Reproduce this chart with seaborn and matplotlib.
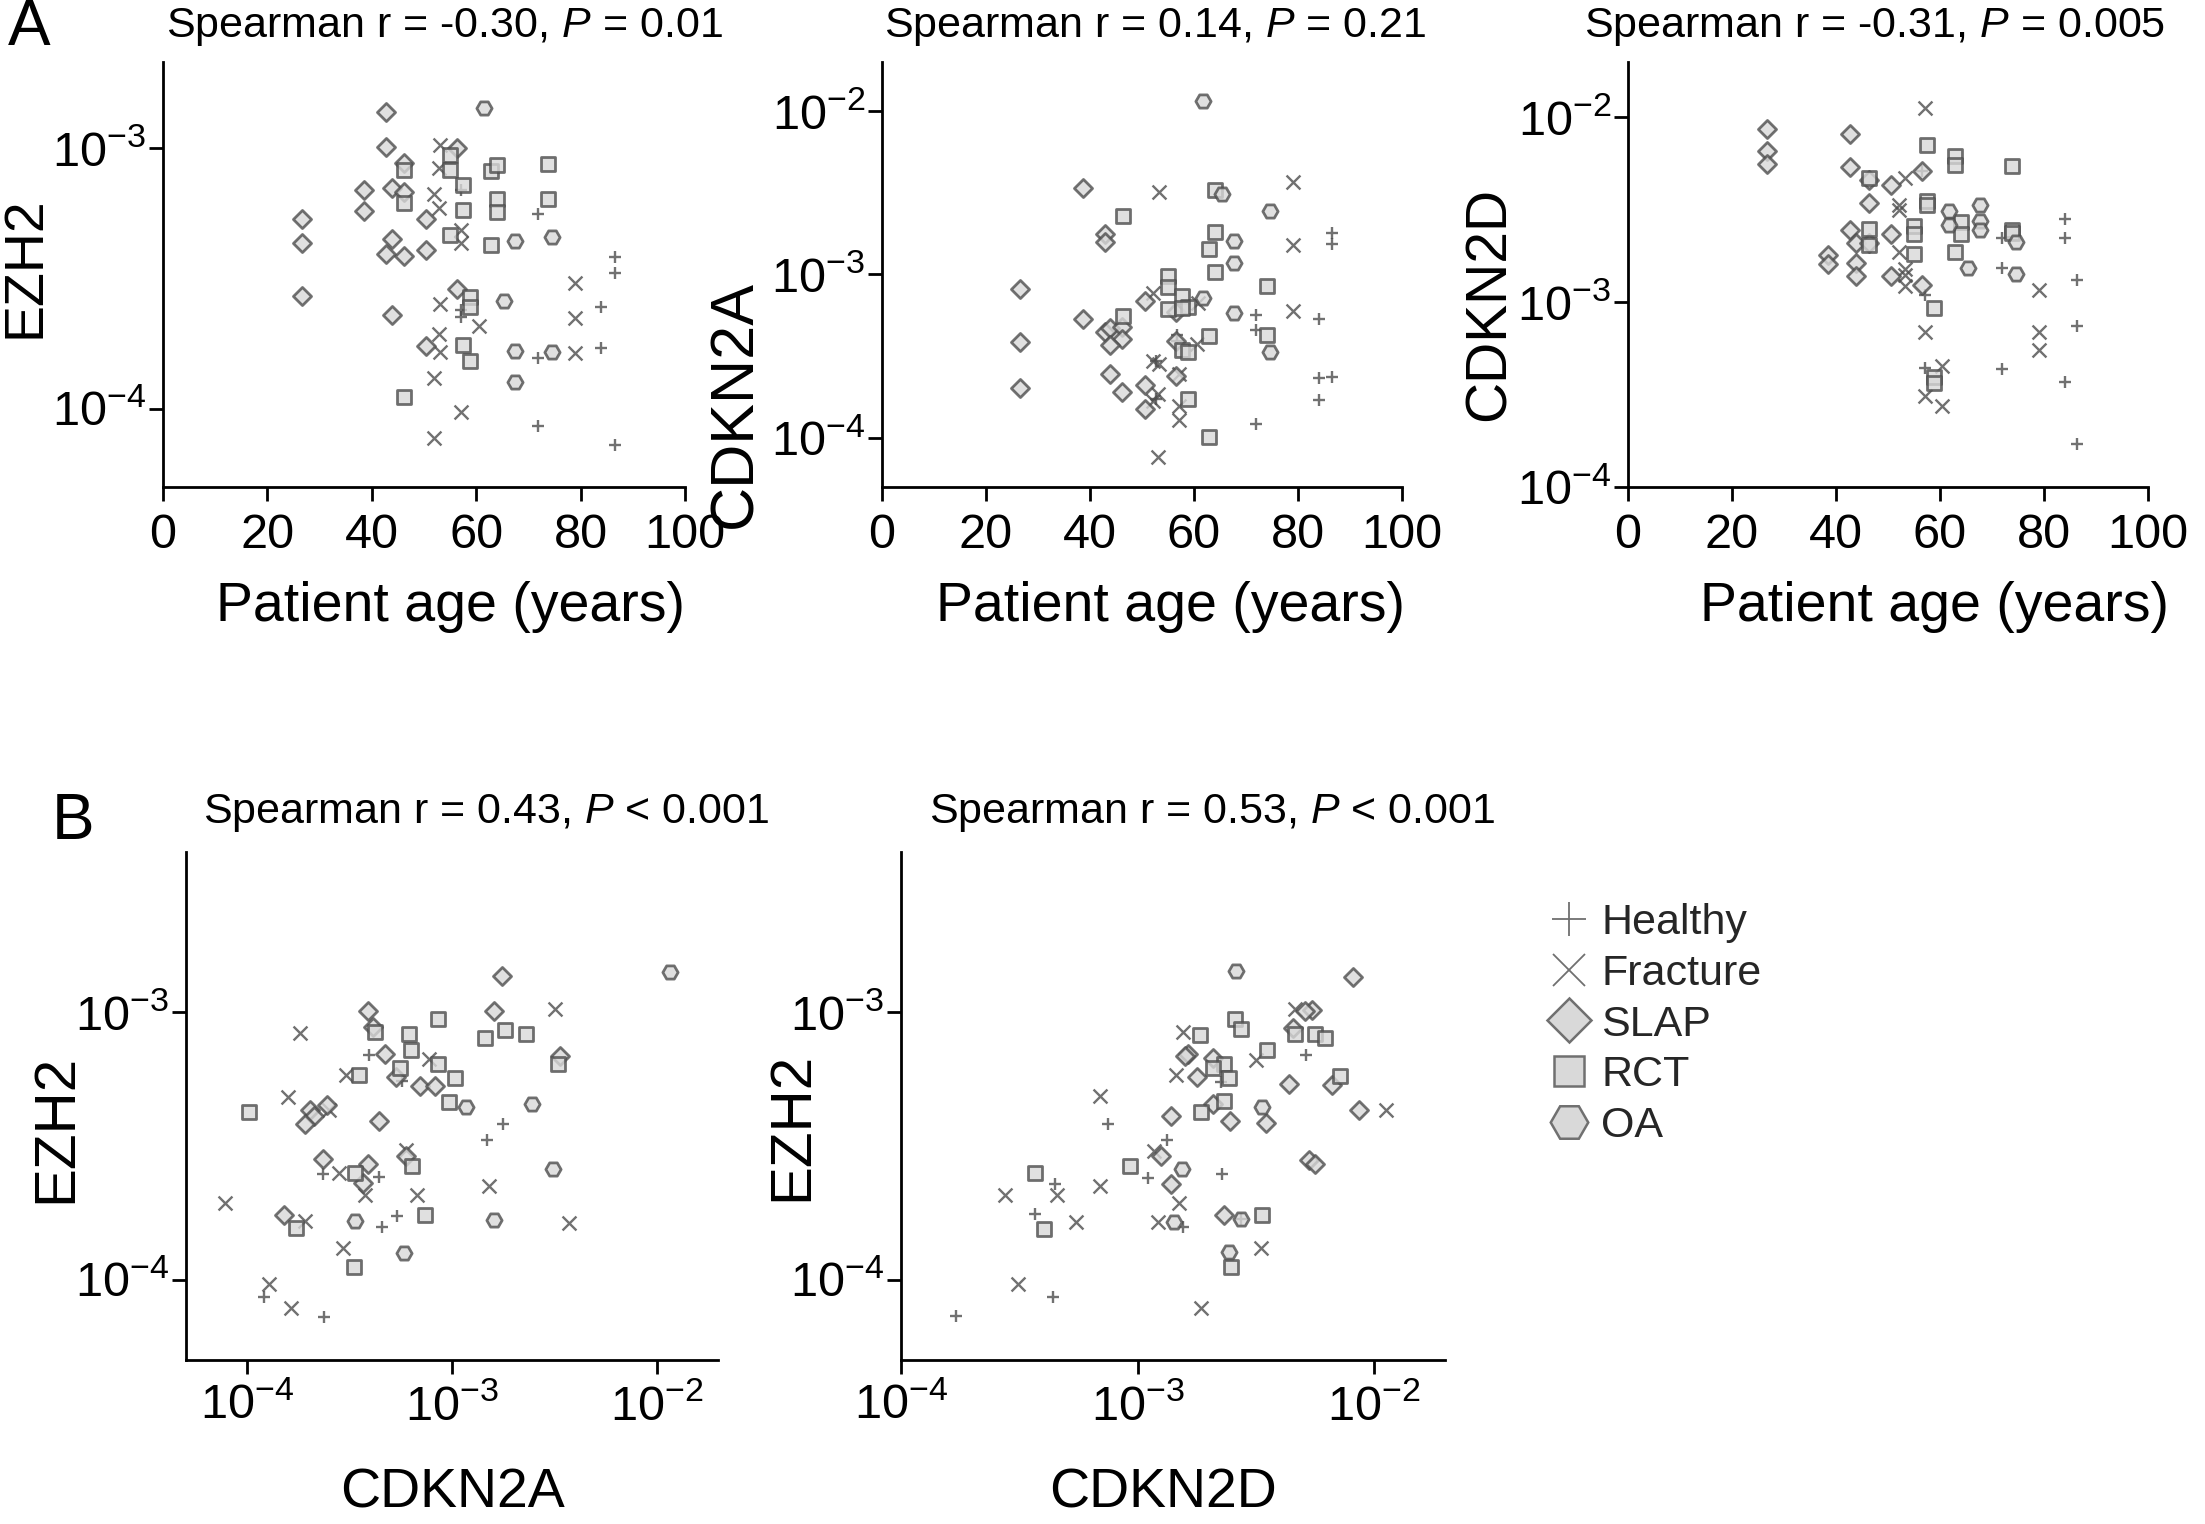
import numpy as np
import pandas as pd
import matplotlib
matplotlib.use("Agg")
import matplotlib.pyplot as plt
from matplotlib.lines import Line2D
from matplotlib.ticker import FixedLocator, NullLocator, FuncFormatter
import seaborn as sns

sns.set_theme(style="ticks")
plt.rcParams['font.family'] = ['Liberation Sans', 'DejaVu Sans']
plt.rcParams['mathtext.fontset'] = 'custom'
plt.rcParams['mathtext.rm'] = 'Liberation Sans'
plt.rcParams['mathtext.it'] = 'Liberation Sans:italic'
plt.rcParams['mathtext.default'] = 'regular'

GROUPS = ["Healthy", "Fracture", "SLAP", "RCT", "OA"]

# ---------------- Panel A1: age vs EZH2 ----------------
A1_HEALTHY_AGE = [57.0, 71.9, 86.5, 86.5, 84.0, 57.0, 57.0, 84.0, 71.9, 71.9, 86.5]
A1_HEALTHY_EZH2 = [6.89e-4, 5.58e-4, 3.82e-4, 3.33e-4, 2.46e-4, 2.39e-4, 2.25e-4, 1.71e-4, 1.56e-4, 8.57e-5, 7.27e-5]
A1_FRACTURE_AGE = [53.1, 52.8, 51.9, 52.8, 57.1, 57.1, 53.1, 60.5, 52.8, 53.1, 51.9, 57.1, 51.9, 78.9, 78.9, 78.9]
A1_FRACTURE_EZH2 = [1.03e-3, 8.40e-4, 6.67e-4, 5.88e-4, 4.86e-4, 4.32e-4, 2.52e-4, 2.07e-4, 1.93e-4, 1.65e-4, 1.31e-4, 9.68e-5, 7.71e-5, 3.03e-4, 2.22e-4, 1.63e-4]
A1_SLAP_AGE = [26.6, 26.6, 26.6, 42.8, 42.8, 46.1, 38.5, 43.8, 46.1, 38.5, 50.4, 43.8, 42.8, 46.1, 50.4, 43.8, 56.3, 56.4, 50.4]
A1_SLAP_EZH2 = [5.33e-4, 4.31e-4, 2.70e-4, 1.37e-3, 1.01e-3, 8.78e-4, 6.89e-4, 7.03e-4, 6.77e-4, 5.72e-4, 5.35e-4, 4.48e-4, 3.92e-4, 3.85e-4, 4.07e-4, 2.28e-4, 1.00e-3, 2.87e-4, 1.74e-4]
A1_RCT_AGE = [55.0, 55.0, 46.2, 46.2, 57.5, 57.5, 62.9, 64.0, 73.8, 73.8, 64.0, 64.0, 55.0, 62.9, 58.8, 58.8, 57.5, 58.8, 46.2]
A1_RCT_EZH2 = [9.37e-4, 8.27e-4, 8.22e-4, 6.16e-4, 7.21e-4, 5.80e-4, 8.15e-4, 8.60e-4, 8.70e-4, 6.37e-4, 6.40e-4, 5.69e-4, 4.62e-4, 4.23e-4, 2.68e-4, 2.46e-4, 1.75e-4, 1.53e-4, 1.11e-4]
A1_OA_AGE = [61.5, 67.5, 74.6, 65.3, 67.5, 74.6, 67.5]
A1_OA_EZH2 = [1.43e-3, 4.41e-4, 4.54e-4, 2.60e-4, 1.67e-4, 1.65e-4, 1.27e-4]

# ---------------- Panel A2: age vs CDKN2A ----------------
A2_HEALTHY_AGE = [86.6, 86.6, 71.9, 84.1, 71.9, 56.8, 56.8, 52.7, 52.7, 84.1, 86.6, 84.1, 71.9]
A2_HEALTHY_CDKN2A = [1.79e-3, 1.53e-3, 5.69e-4, 5.38e-4, 4.55e-4, 4.24e-4, 3.92e-4, 2.96e-4, 1.73e-4, 2.32e-4, 2.36e-4, 1.70e-4, 1.22e-4]
A2_FRACTURE_AGE = [53.2, 79.0, 79.0, 79.0, 52.2, 60.7, 60.6, 52.2, 53.2, 57.2, 53.0, 52.2, 57.2, 57.2, 53.0]
A2_FRACTURE_CDKN2A = [3.18e-3, 3.70e-3, 1.51e-3, 6.02e-4, 7.71e-4, 6.70e-4, 3.74e-4, 2.96e-4, 2.82e-4, 2.45e-4, 1.85e-4, 1.69e-4, 1.57e-4, 1.28e-4, 7.69e-5]
A2_SLAP_AGE = [38.6, 42.8, 42.8, 26.5, 38.6, 26.5, 26.5, 42.8, 43.8, 46.2, 46.2, 43.8, 50.5, 56.5, 56.5, 43.8, 46.2, 50.5, 50.5, 56.5]
A2_SLAP_CDKN2A = [3.36e-3, 1.77e-3, 1.59e-3, 8.20e-4, 5.36e-4, 3.86e-4, 2.02e-4, 4.45e-4, 4.72e-4, 4.79e-4, 4.05e-4, 3.68e-4, 6.93e-4, 5.91e-4, 3.92e-4, 2.45e-4, 1.90e-4, 2.11e-4, 1.50e-4, 2.40e-4]
A2_RCT_AGE = [46.3, 64.1, 64.1, 62.9, 64.1, 55.0, 55.0, 57.6, 58.9, 55.0, 57.6, 46.3, 62.9, 74.0, 74.0, 57.6, 58.9, 58.9, 62.9]
A2_RCT_CDKN2A = [2.28e-3, 3.29e-3, 1.81e-3, 1.44e-3, 1.03e-3, 9.75e-4, 8.39e-4, 7.36e-4, 6.34e-4, 6.11e-4, 6.25e-4, 5.56e-4, 4.20e-4, 8.47e-4, 4.26e-4, 3.44e-4, 3.37e-4, 1.73e-4, 1.02e-4]
A2_OA_AGE = [61.7, 65.4, 74.7, 67.7, 67.7, 61.7, 67.7, 74.7]
A2_OA_CDKN2A = [1.16e-2, 3.09e-3, 2.46e-3, 1.61e-3, 1.18e-3, 7.19e-4, 5.82e-4, 3.36e-4]

# ---------------- Panel A3: age vs CDKN2D ----------------
A3_HEALTHY_AGE = [56.6, 84.0, 84.0, 72.0, 72.0, 86.4, 57.1, 86.4, 57.1, 72.0, 84.0, 86.4]
A3_HEALTHY_CDKN2D = [5.16e-3, 2.81e-3, 2.23e-3, 2.23e-3, 1.54e-3, 1.32e-3, 1.09e-3, 7.41e-4, 4.43e-4, 4.33e-4, 3.72e-4, 1.71e-4]
A3_FRACTURE_AGE = [57.1, 53.2, 52.1, 52.1, 52.1, 53.2, 53.2, 53.2, 79.0, 57.1, 79.0, 79.0, 60.4, 57.1, 60.4]
A3_FRACTURE_CDKN2D = [1.12e-2, 4.70e-3, 3.35e-3, 3.15e-3, 1.86e-3, 1.51e-3, 1.41e-3, 1.22e-3, 1.17e-3, 6.91e-4, 6.91e-4, 5.51e-4, 4.52e-4, 3.11e-4, 2.75e-4]
A3_SLAP_AGE = [26.7, 26.7, 26.7, 42.7, 42.7, 46.3, 50.5, 46.3, 42.7, 43.9, 46.3, 50.5, 38.5, 38.5, 43.9, 43.9, 50.5, 56.6, 56.6]
A3_SLAP_CDKN2D = [8.65e-3, 6.62e-3, 5.61e-3, 8.13e-3, 5.39e-3, 4.61e-3, 4.33e-3, 3.45e-3, 2.46e-3, 2.08e-3, 2.08e-3, 2.33e-3, 1.79e-3, 1.60e-3, 1.64e-3, 1.38e-3, 1.39e-3, 5.16e-3, 1.24e-3]
A3_RCT_AGE = [57.5, 62.8, 62.8, 73.8, 46.3, 57.5, 57.5, 46.3, 46.3, 55.0, 55.0, 55.0, 64.1, 64.1, 62.8, 73.8, 73.8, 58.9, 58.9, 58.9]
A3_RCT_CDKN2D = [7.13e-3, 6.17e-3, 5.54e-3, 5.45e-3, 4.70e-3, 3.52e-3, 3.35e-3, 2.49e-3, 2.04e-3, 2.58e-3, 2.33e-3, 1.83e-3, 2.72e-3, 2.33e-3, 1.88e-3, 2.46e-3, 2.36e-3, 9.31e-4, 3.94e-4, 3.67e-4]
A3_OA_AGE = [67.6, 61.7, 61.7, 67.6, 67.6, 74.7, 65.4, 74.7]
A3_OA_CDKN2D = [3.35e-3, 3.11e-3, 2.61e-3, 2.75e-3, 2.46e-3, 2.11e-3, 1.54e-3, 1.42e-3]

# ---------------- Panel B1: CDKN2A vs EZH2 ----------------
B1_HEALTHY_CDKN2A = [3.95e-4, 5.70e-4, 1.78e-3, 1.48e-3, 2.35e-4, 4.38e-4, 5.41e-4, 4.55e-4, 1.21e-4, 2.37e-4]
B1_HEALTHY_EZH2 = [6.95e-4, 5.56e-4, 3.82e-4, 3.33e-4, 2.49e-4, 2.42e-4, 1.73e-4, 1.57e-4, 8.63e-5, 7.28e-5]
B1_FRACTURE_CDKN2A = [1.80e-4, 3.18e-3, 3.03e-4, 7.74e-4, 1.58e-4, 2.51e-4, 5.97e-4, 2.79e-4, 3.74e-4, 6.71e-4, 1.51e-3, 7.74e-5, 1.91e-4, 3.72e-3, 2.92e-4, 1.28e-4, 1.63e-4]
B1_FRACTURE_EZH2 = [8.38e-4, 1.03e-3, 5.84e-4, 6.71e-4, 4.84e-4, 4.32e-4, 3.07e-4, 2.51e-4, 2.08e-4, 2.08e-4, 2.24e-4, 1.93e-4, 1.66e-4, 1.63e-4, 1.32e-4, 9.66e-5, 7.83e-5]
B1_SLAP_CDKN2A = [1.75e-3, 1.60e-3, 3.87e-4, 4.11e-4, 4.72e-4, 5.34e-4, 6.94e-4, 8.22e-4, 3.39e-3, 2.44e-4, 2.02e-4, 2.12e-4, 1.91e-4, 4.42e-4, 2.35e-4, 3.87e-4, 3.66e-4, 5.93e-4, 1.51e-4]
B1_SLAP_EZH2 = [1.37e-3, 1.01e-3, 1.01e-3, 8.83e-4, 7.00e-4, 5.73e-4, 5.32e-4, 5.32e-4, 6.90e-4, 4.50e-4, 4.32e-4, 4.10e-4, 3.84e-4, 3.91e-4, 2.82e-4, 2.71e-4, 2.30e-4, 2.90e-4, 1.75e-4]
B1_RCT_CDKN2A = [8.51e-4, 4.21e-4, 6.17e-4, 6.28e-4, 1.45e-3, 1.82e-3, 2.29e-3, 3.31e-3, 3.52e-4, 5.58e-4, 8.55e-4, 1.03e-3, 9.68e-4, 1.02e-4, 3.35e-4, 6.41e-4, 7.36e-4, 1.73e-4, 3.32e-4]
B1_RCT_EZH2 = [9.44e-4, 8.45e-4, 8.28e-4, 7.21e-4, 8.03e-4, 8.63e-4, 8.28e-4, 6.42e-4, 5.81e-4, 6.21e-4, 6.42e-4, 5.69e-4, 4.63e-4, 4.26e-4, 2.51e-4, 2.67e-4, 1.75e-4, 1.56e-4, 1.12e-4]
B1_OA_CDKN2A = [1.16e-2, 1.17e-3, 2.47e-3, 3.10e-3, 1.60e-3, 3.35e-4, 5.81e-4]
B1_OA_EZH2 = [1.42e-3, 4.44e-4, 4.54e-4, 2.60e-4, 1.68e-4, 1.66e-4, 1.26e-4]

# ---------------- Panel B2: CDKN2D vs EZH2 ----------------
B2_HEALTHY_CDKN2D = [5.18e-3, 2.25e-3, 7.47e-4, 1.33e-3, 1.11e-3, 2.27e-3, 4.50e-4, 3.67e-4, 1.55e-3, 4.39e-4, 1.70e-4, 2.75e-3]
B2_HEALTHY_EZH2 = [6.95e-4, 5.50e-4, 3.82e-4, 3.32e-4, 2.41e-4, 2.48e-4, 2.28e-4, 1.76e-4, 1.57e-4, 8.63e-5, 7.31e-5, 1.69e-4]
B2_FRACTURE_CDKN2D = [1.55e-3, 4.61e-3, 3.16e-3, 1.46e-3, 6.92e-4, 1.17e-3, 1.50e-3, 6.92e-4, 4.56e-4, 2.76e-4, 5.51e-4, 1.22e-3, 3.32e-3, 3.13e-4, 1.85e-3, 1.12e-2]
B2_FRACTURE_EZH2 = [8.45e-4, 1.03e-3, 6.64e-4, 5.85e-4, 4.85e-4, 3.03e-4, 1.93e-4, 2.24e-4, 2.08e-4, 2.08e-4, 1.64e-4, 1.65e-4, 1.32e-4, 9.67e-5, 7.85e-5, 4.33e-4]
B2_SLAP_CDKN2D = [8.17e-3, 5.44e-3, 5.10e-3, 4.56e-3, 1.63e-3, 1.59e-3, 2.08e-3, 1.79e-3, 2.08e-3, 4.39e-3, 6.67e-3, 8.67e-3, 1.39e-3, 2.45e-3, 3.49e-3, 5.31e-3, 5.65e-3, 1.26e-3, 1.39e-3, 2.33e-3]
B2_SLAP_EZH2 = [1.36e-3, 1.02e-3, 1.01e-3, 8.75e-4, 7.00e-4, 6.86e-4, 6.78e-4, 5.75e-4, 4.55e-4, 5.38e-4, 5.33e-4, 4.33e-4, 4.10e-4, 3.93e-4, 3.85e-4, 2.81e-4, 2.70e-4, 2.91e-4, 2.29e-4, 1.75e-4]
B2_RCT_CDKN2D = [1.84e-3, 2.58e-3, 2.75e-3, 3.54e-3, 4.61e-3, 5.65e-3, 6.18e-3, 7.19e-3, 2.33e-3, 2.43e-3, 2.08e-3, 2.33e-3, 1.85e-3, 9.27e-4, 3.67e-4, 4.02e-4, 3.36e-3, 2.49e-3]
B2_RCT_EZH2 = [8.22e-4, 9.47e-4, 8.64e-4, 7.21e-4, 8.28e-4, 8.28e-4, 8.04e-4, 5.80e-4, 6.39e-4, 5.69e-4, 6.18e-4, 4.65e-4, 4.24e-4, 2.67e-4, 2.51e-4, 1.55e-4, 1.75e-4, 1.12e-4]
B2_OA_CDKN2D = [2.62e-3, 3.36e-3, 1.54e-3, 1.43e-3, 2.75e-3, 2.43e-3]
B2_OA_EZH2 = [1.43e-3, 4.42e-4, 2.60e-4, 1.65e-4, 1.69e-4, 1.27e-4]

TITLES = {
    "A1": r"Spearman r = -0.30, $\it{P}$ = 0.01",
    "A2": r"Spearman r = 0.14, $\it{P}$ = 0.21",
    "A3": r"Spearman r = -0.31, $\it{P}$ = 0.005",
    "B1": r"Spearman r = 0.43, $\it{P}$ < 0.001",
    "B2": r"Spearman r = 0.53, $\it{P}$ < 0.001",
}


def frame(groups_xy):
    rows = []
    for g, (xs, ys) in zip(GROUPS, groups_xy):
        for xv, yv in zip(xs, ys):
            rows.append((xv, yv, g))
    return pd.DataFrame(rows, columns=["x", "y", "group"])


DATA = {
    "A1": frame([(A1_HEALTHY_AGE, A1_HEALTHY_EZH2), (A1_FRACTURE_AGE, A1_FRACTURE_EZH2),
                 (A1_SLAP_AGE, A1_SLAP_EZH2), (A1_RCT_AGE, A1_RCT_EZH2), (A1_OA_AGE, A1_OA_EZH2)]),
    "A2": frame([(A2_HEALTHY_AGE, A2_HEALTHY_CDKN2A), (A2_FRACTURE_AGE, A2_FRACTURE_CDKN2A),
                 (A2_SLAP_AGE, A2_SLAP_CDKN2A), (A2_RCT_AGE, A2_RCT_CDKN2A), (A2_OA_AGE, A2_OA_CDKN2A)]),
    "A3": frame([(A3_HEALTHY_AGE, A3_HEALTHY_CDKN2D), (A3_FRACTURE_AGE, A3_FRACTURE_CDKN2D),
                 (A3_SLAP_AGE, A3_SLAP_CDKN2D), (A3_RCT_AGE, A3_RCT_CDKN2D), (A3_OA_AGE, A3_OA_CDKN2D)]),
    "B1": frame([(B1_HEALTHY_CDKN2A, B1_HEALTHY_EZH2), (B1_FRACTURE_CDKN2A, B1_FRACTURE_EZH2),
                 (B1_SLAP_CDKN2A, B1_SLAP_EZH2), (B1_RCT_CDKN2A, B1_RCT_EZH2), (B1_OA_CDKN2A, B1_OA_EZH2)]),
    "B2": frame([(B2_HEALTHY_CDKN2D, B2_HEALTHY_EZH2), (B2_FRACTURE_CDKN2D, B2_FRACTURE_EZH2),
                 (B2_SLAP_CDKN2D, B2_SLAP_EZH2), (B2_RCT_CDKN2D, B2_RCT_EZH2), (B2_OA_CDKN2D, B2_OA_EZH2)]),
}

EDGE = "#4d4d4d"
FACE = "#d9d9d9"
MARKERS = {"Healthy": ("+", 75), "Fracture": ("x", 100), "SLAP": ("D", 85), "RCT": ("s", 110), "OA": ("H", 120)}

W, H = 2205, 1524
fig = plt.figure(figsize=(W / 100, H / 100), dpi=100)


def add_axes(l, r, t, b):
    return fig.add_axes([l / W, 1 - b / H, (r - l) / W, (b - t) / H])


LAYOUT = {
    "A1": (163, 685, 62, 487),
    "A2": (882, 1402, 62, 487),
    "A3": (1628, 2148, 62, 487),
    "B1": (186, 718, 852, 1360),
    "B2": (901, 1445, 852, 1360),
}
YLIMS = {"A1": (10 ** -4.3, 10 ** -2.67), "A2": (10 ** -4.3, 10 ** -1.7), "A3": (1e-4, 10 ** -1.7),
         "B1": (10 ** -4.3, 10 ** -2.4), "B2": (10 ** -4.3, 10 ** -2.4)}
XLIMS = {"A1": (0, 100), "A2": (0, 100), "A3": (0, 100),
         "B1": (10 ** -4.3, 10 ** -1.7), "B2": (1e-4, 10 ** -1.7)}
YTICKS = {"A1": [1e-4, 1e-3], "A2": [1e-4, 1e-3, 1e-2], "A3": [1e-4, 1e-3, 1e-2],
          "B1": [1e-4, 1e-3], "B2": [1e-4, 1e-3]}
YLABELS = {"A1": "EZH2", "A2": "CDKN2A", "A3": "CDKN2D", "B1": "EZH2", "B2": "EZH2"}
XLABELS = {"A1": "Patient age (years)", "A2": "Patient age (years)", "A3": "Patient age (years)",
           "B1": "CDKN2A", "B2": "CDKN2D"}
# label centres in figure pixels
YLAB_POS = {"A1": (25, 267, 40), "A2": (736, 404, 44), "A3": (1490, 304, 41),
            "B1": (56, 1128, 42), "B2": (792, 1126, 42)}
XLAB_POS = {"A1": (451, 607), "A2": (1170, 607), "A3": (1935, 607),
            "B1": (453, 1494), "B2": (1163, 1494)}
TITLE_POS = {"A1": (166, 27), "A2": (884, 27), "A3": (1584, 27), "B1": (203, 813), "B2": (929, 813)}

logfmt = FuncFormatter(lambda v, p: r"$10^{%d}$" % int(round(np.log10(v))))

for key, (l, r, t, b) in LAYOUT.items():
    ax = add_axes(l, r, t, b)
    df = DATA[key]
    for g in GROUPS:
        sub = df[df["group"] == g]
        m, s = MARKERS[g]
        if m in ("+", "x"):
            sns.scatterplot(data=sub, x="x", y="y", ax=ax, marker=m, s=s, color=EDGE,
                            linewidth=1.7, alpha=0.8, legend=False, zorder=3)
        else:
            sns.scatterplot(data=sub, x="x", y="y", ax=ax, marker=m, s=s, color=FACE,
                            edgecolor=EDGE, linewidth=2.0, alpha=0.8, legend=False, zorder=3)
    ax.set_yscale("log")
    if key.startswith("B"):
        ax.set_xscale("log")
        ax.xaxis.set_major_locator(FixedLocator([1e-4, 1e-3, 1e-2]))
        ax.xaxis.set_major_formatter(logfmt)
        ax.xaxis.set_minor_locator(NullLocator())
    else:
        ax.set_xticks([0, 20, 40, 60, 80, 100])
    ax.set_xlim(*XLIMS[key])
    ax.set_ylim(*YLIMS[key])
    ax.yaxis.set_major_locator(FixedLocator(YTICKS[key]))
    ax.yaxis.set_major_formatter(logfmt)
    ax.yaxis.set_minor_locator(NullLocator())
    for sp in ("top", "right"):
        ax.spines[sp].set_visible(False)
    for sp in ("left", "bottom"):
        ax.spines[sp].set_linewidth(2.0)
        ax.spines[sp].set_color("black")
    ax.tick_params(axis="both", which="major", direction="out", length=10, width=2.0,
                   color="black", labelsize=35, labelcolor="black")
    ax.tick_params(axis="y", pad=2)
    ax.tick_params(axis="x", pad=9 if key.startswith("A") else 7)

    # axis labels (positioned in figure pixels)
    yx, yy, ysz = YLAB_POS[key]
    ax.set_ylabel(YLABELS[key], fontsize=ysz, color="black")
    ax.yaxis.set_label_coords((yx - l) / (r - l), (b - yy) / (b - t))
    ax.yaxis.label.set_va("center")
    xx, xy = XLAB_POS[key]
    ax.set_xlabel(XLABELS[key], fontsize=40, color="black")
    ax.xaxis.set_label_coords((xx - l) / (r - l), (b - xy) / (b - t))
    ax.xaxis.label.set_va("center")

    tx, ty = TITLE_POS[key]
    fig.text(tx / W, 1 - ty / H, TITLES[key], fontsize=31, ha="left", va="center", color="black")

fig.text(8 / W, 1 - 28 / H, "A", fontsize=46, ha="left", va="center", color="black")
fig.text(52 / W, 1 - 822 / H, "B", fontsize=46, ha="left", va="center", color="black")

handles = [
    Line2D([], [], ls="", marker="+", markersize=25, markeredgecolor="#707070", markeredgewidth=1.3),
    Line2D([], [], ls="", marker="x", markersize=23, markeredgecolor="#707070", markeredgewidth=1.3),
    Line2D([], [], ls="", marker="D", markersize=22, markerfacecolor="#d9d9d9", markeredgecolor="#707070", markeredgewidth=1.8),
    Line2D([], [], ls="", marker="s", markersize=21, markerfacecolor="#d9d9d9", markeredgecolor="#707070", markeredgewidth=1.8),
    Line2D([], [], ls="", marker="H", markersize=27, markerfacecolor="#d9d9d9", markeredgecolor="#707070", markeredgewidth=1.8),
]
fig.legend(handles=handles, labels=GROUPS, loc="upper left", bbox_to_anchor=(1543 / W, 1 - 903 / H),
           frameon=False, fontsize=31, handletextpad=0.15, labelspacing=0.25, handlelength=1.2,
           borderpad=0, borderaxespad=0)

fig.savefig("out.png", dpi=100)
